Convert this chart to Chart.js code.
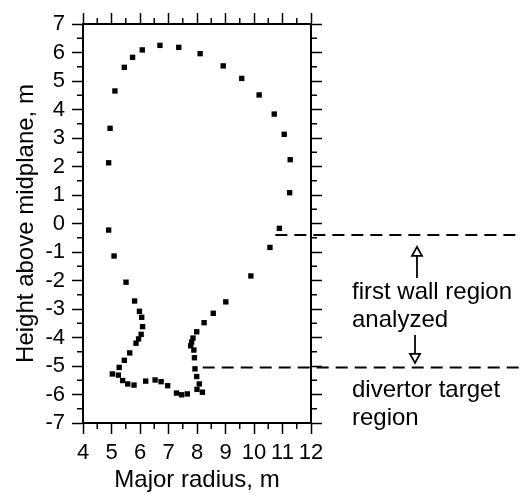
<!DOCTYPE html>
<html>
<head>
<meta charset="utf-8">
<script src="https://cdn.jsdelivr.net/npm/chart.js@4/dist/chart.umd.min.js"></script>
<style>
  html, body { margin: 0; padding: 0; background: #fff; }
  canvas { display: block; }
</style>
</head>
<body>
<canvas id="wallChart" width="522" height="495"></canvas>
<script>
// first wall / divertor sample points (major radius R, height Z), metres
const radiusPts = [
  4.90, 4.95, 5.12, 5.45, 5.74, 6.08, 6.70, 7.36, 8.11, 8.92, 9.57, 10.18, 10.71, 11.06, 11.27, 11.25,
  10.89, 10.56, 9.89, 9.01, 8.57, 8.25,
  7.99, 7.86, 7.81, 7.78, 7.89, 7.91, 7.93, 7.99, 8.08, 8.19, 8.00,
  7.66, 7.46, 7.28, 6.97, 6.74, 6.53, 6.20, 5.79, 5.57, 5.39, 5.24, 5.03,
  5.27, 5.45, 5.64, 5.86, 5.95, 6.04, 6.09, 6.06, 5.98, 5.81, 5.51, 5.09, 4.90
];
const heightPts = [
  2.13, 3.34, 4.65, 5.48, 5.83, 6.09, 6.25, 6.18, 5.96, 5.53, 5.09, 4.51, 3.84, 3.13, 2.24, 1.08,
  -0.17, -0.84, -1.84, -2.75, -3.15, -3.48,
  -3.80, -4.02, -4.16, -4.29, -4.44, -4.71, -5.10, -5.37, -5.63, -5.92, -5.82,
  -5.98, -6.01, -5.95, -5.69, -5.55, -5.49, -5.53, -5.67, -5.63, -5.51, -5.32, -5.28,
  -5.05, -4.80, -4.54, -4.20, -4.05, -3.89, -3.62, -3.29, -3.08, -2.72, -2.06, -1.14, -0.23
];

// region boundaries (height) and where each dashed line starts (radius)
const boundaryHeights = [-0.40, -5.05];
const boundaryStarts = [10.75, 8.20];
const upperLabel = ['first wall region', 'analyzed'];
const lowerLabel = ['divertor target', 'region'];

const FONT = '"Liberation Sans", Arial, sans-serif';

const points = radiusPts.map((r, i) => ({ x: r, y: heightPts[i] }));

const drawArrow = (ctx, x, y0, y1) => {
  // shaft from y0 to y1, hollow head at y1
  const dir = y1 < y0 ? 1 : -1;
  const headLen = 9;
  const headHalf = 5;
  ctx.beginPath();
  ctx.moveTo(x, y0);
  ctx.lineTo(x, y1 + dir * headLen);
  ctx.stroke();
  ctx.beginPath();
  ctx.moveTo(x, y1);
  ctx.lineTo(x - headHalf, y1 + dir * headLen);
  ctx.lineTo(x + headHalf, y1 + dir * headLen);
  ctx.closePath();
  ctx.fillStyle = '#fff';
  ctx.fill();
  ctx.stroke();
};

const extrasPlugin = {
  id: 'extras',
  afterDraw(chart) {
    const ctx = chart.ctx;
    const xs = chart.scales.x;
    const ys = chart.scales.y;
    const area = chart.chartArea;
    ctx.save();

    // minor ticks on all four sides
    ctx.strokeStyle = '#000';
    ctx.lineWidth = 1.5;
    ctx.beginPath();
    for (let v = 4.5; v < 12; v += 1) {
      const px = xs.getPixelForValue(v);
      ctx.moveTo(px, area.bottom); ctx.lineTo(px, area.bottom + 6);
      ctx.moveTo(px, area.top); ctx.lineTo(px, area.top - 6);
    }
    for (let v = -6.5; v < 7; v += 1) {
      const py = ys.getPixelForValue(v);
      ctx.moveTo(area.left, py); ctx.lineTo(area.left - 6, py);
      ctx.moveTo(area.right, py); ctx.lineTo(area.right + 6, py);
    }
    ctx.stroke();

    // dashed region boundaries
    ctx.lineWidth = 2;
    ctx.setLineDash([12, 7]);
    boundaryHeights.forEach((h, i) => {
      const py = ys.getPixelForValue(h);
      ctx.beginPath();
      ctx.moveTo(xs.getPixelForValue(boundaryStarts[i]), py);
      ctx.lineTo(chart.width, py);
      ctx.stroke();
    });
    ctx.setLineDash([]);

    // annotation text
    const tx = area.right + 41;
    ctx.fillStyle = '#000';
    ctx.font = '24px ' + FONT;
    ctx.textAlign = 'left';
    ctx.textBaseline = 'alphabetic';
    ctx.fillText(upperLabel[0], tx, ys.getPixelForValue(-2.65));
    ctx.fillText(upperLabel[1], tx, ys.getPixelForValue(-3.63));
    ctx.fillText(lowerLabel[0], tx, ys.getPixelForValue(-6.09));
    ctx.fillText(lowerLabel[1], tx, ys.getPixelForValue(-7.07));

    // arrows
    ctx.lineWidth = 1.8;
    drawArrow(ctx, area.right + 106, ys.getPixelForValue(-1.91), ys.getPixelForValue(-0.82));
    drawArrow(ctx, area.right + 104, ys.getPixelForValue(-3.91), ys.getPixelForValue(-4.89));

    ctx.restore();
  }
};

const axisGrid = { drawOnChartArea: false, color: '#000', tickLength: 11, tickWidth: 1.5 };
const axisBorder = { color: '#000', width: 2 };

new Chart(document.getElementById('wallChart'), {
  type: 'scatter',
  data: {
    datasets: [{
      data: points,
      pointStyle: 'rect',
      pointRadius: 3.8,
      pointBackgroundColor: '#000',
      pointBorderWidth: 0,
      showLine: false
    }]
  },
  options: {
    responsive: false,
    animation: false,
    layout: { padding: 0 },
    plugins: { legend: { display: false }, tooltip: { enabled: false } },
    scales: {
      x: {
        type: 'linear', position: 'bottom', min: 4, max: 12,
        afterFit: s => { s.height = 72; },
        ticks: { stepSize: 1, autoSkip: false, maxRotation: 0, color: '#000', padding: 6, font: { family: FONT, size: 22 } },
        grid: axisGrid, border: axisBorder,
        title: { display: true, text: 'Major radius, m', color: '#000', padding: { top: 0, bottom: 0 }, font: { family: FONT, size: 24 } }
      },
      y: {
        type: 'linear', position: 'left', min: -7, max: 7,
        afterFit: s => { s.width = 83; },
        ticks: { stepSize: 1, autoSkip: false, color: '#000', padding: 7, font: { family: FONT, size: 22 } },
        grid: axisGrid, border: axisBorder,
        title: { display: true, text: 'Height above midplane, m', color: '#000', padding: { top: 12, bottom: 0 }, font: { family: FONT, size: 24 } }
      },
      x2: {
        type: 'linear', position: 'top', min: 4, max: 12,
        afterFit: s => { s.height = 24; },
        ticks: { stepSize: 1, display: false },
        grid: axisGrid, border: axisBorder
      },
      y2: {
        type: 'linear', position: 'right', min: -7, max: 7,
        afterFit: s => { s.width = 211; },
        ticks: { stepSize: 1, display: false },
        grid: axisGrid, border: axisBorder
      }
    }
  },
  plugins: [extrasPlugin]
});
</script>
</body>
</html>
